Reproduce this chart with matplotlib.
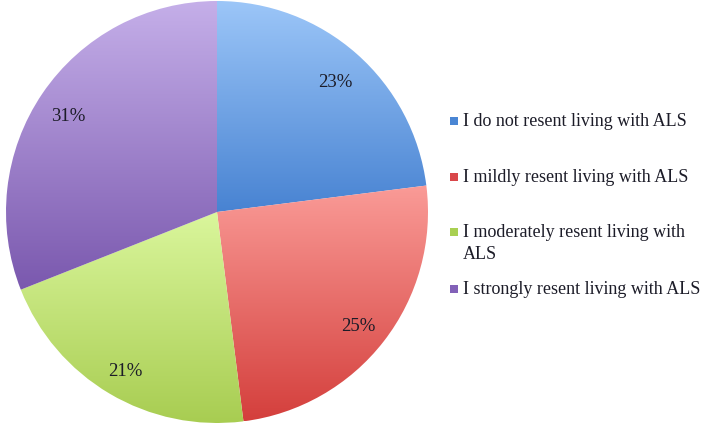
#!/usr/bin/env python3

import matplotlib
matplotlib.use('Agg')
import matplotlib.pyplot as plt
import matplotlib.patches as mpatches
import matplotlib.transforms as mtransforms
from matplotlib.colors import LinearSegmentedColormap
import numpy as np

# Chart data
labels = ['I do not resent living with ALS',
          'I mildly resent living with ALS',
          'I moderately resent living with\nALS',
          'I strongly resent living with ALS']
shares = [23, 25, 21, 31]

# Gradient colors for each slice (top, bottom)
top_colors = ['#9cc6f8', '#fa9b97', '#daf69c', '#c5afe9']
bottom_colors = ['#4883d2', '#d43f3c', '#a7cc50', '#7a58ae']
legend_colors = ['#4a86d4', '#d9474a', '#a9d052', '#8261b8']

text_color = '#1c1c28'
font = 'Liberation Serif'


def main():
    matplotlib.rcParams.update({'font.family': font, 'font.size': 13})

    fig = plt.figure(figsize=(7.09, 4.30), dpi=100)
    ax = fig.add_axes([6 / 709, 7 / 430, 422 / 709, 422 / 430])

    wedges, _, autotexts = ax.pie(shares,
        startangle=90,
        counterclock=False,
        autopct='%d%%',
        pctdistance=0.85,
        wedgeprops=dict(linewidth=0, facecolor='none'),
        textprops=dict(color=text_color, fontsize=13.5),
    )

    # Fill each slice with a vertical gradient clipped to the wedge
    for i, w in enumerate(wedges):
        path = w.get_path().transformed(w.get_patch_transform())
        verts = path.vertices
        x0, x1 = verts[:, 0].min(), verts[:, 0].max()
        y0, y1 = verts[:, 1].min(), verts[:, 1].max()
        cmap = LinearSegmentedColormap.from_list('g%d' % i, [bottom_colors[i], top_colors[i]])
        grad = np.linspace(0, 1, 256).reshape(-1, 1)
        im = ax.imshow(grad, cmap=cmap, origin='lower', aspect='auto',
                       extent=(x0, x1, y0, y1), interpolation='bilinear', zorder=1)
        im.set_clip_path(w)

    # Nudge percent labels slightly down, as in the original
    shift = mtransforms.ScaledTranslation(0, -5 / 100, fig.dpi_scale_trans)
    for t in autotexts:
        t.set_zorder(3)
        t.set_transform(t.get_transform() + shift)

    ax.set_xlim(-1, 1)
    ax.set_ylim(-1, 1)
    ax.set_aspect('equal')
    ax.axis('off')

    # Legend drawn by hand to match the spacing of the original
    legend_y = [121, 177, 232, 289]
    for i, lab in enumerate(labels):
        yc = legend_y[i]
        fig.patches.append(mpatches.Rectangle((450 / 709, 1 - (yc + 4) / 430), 8 / 709, 8 / 430,
            transform=fig.transFigure, facecolor=legend_colors[i], edgecolor='none'))
        fig.text(463 / 709, 1 - (yc - 8) / 430, lab,
            ha='left', va='top', color=text_color, fontsize=13, linespacing=1.35)

    fig.savefig('out.png', dpi=100, facecolor='white')


if __name__ == '__main__':
    main()
